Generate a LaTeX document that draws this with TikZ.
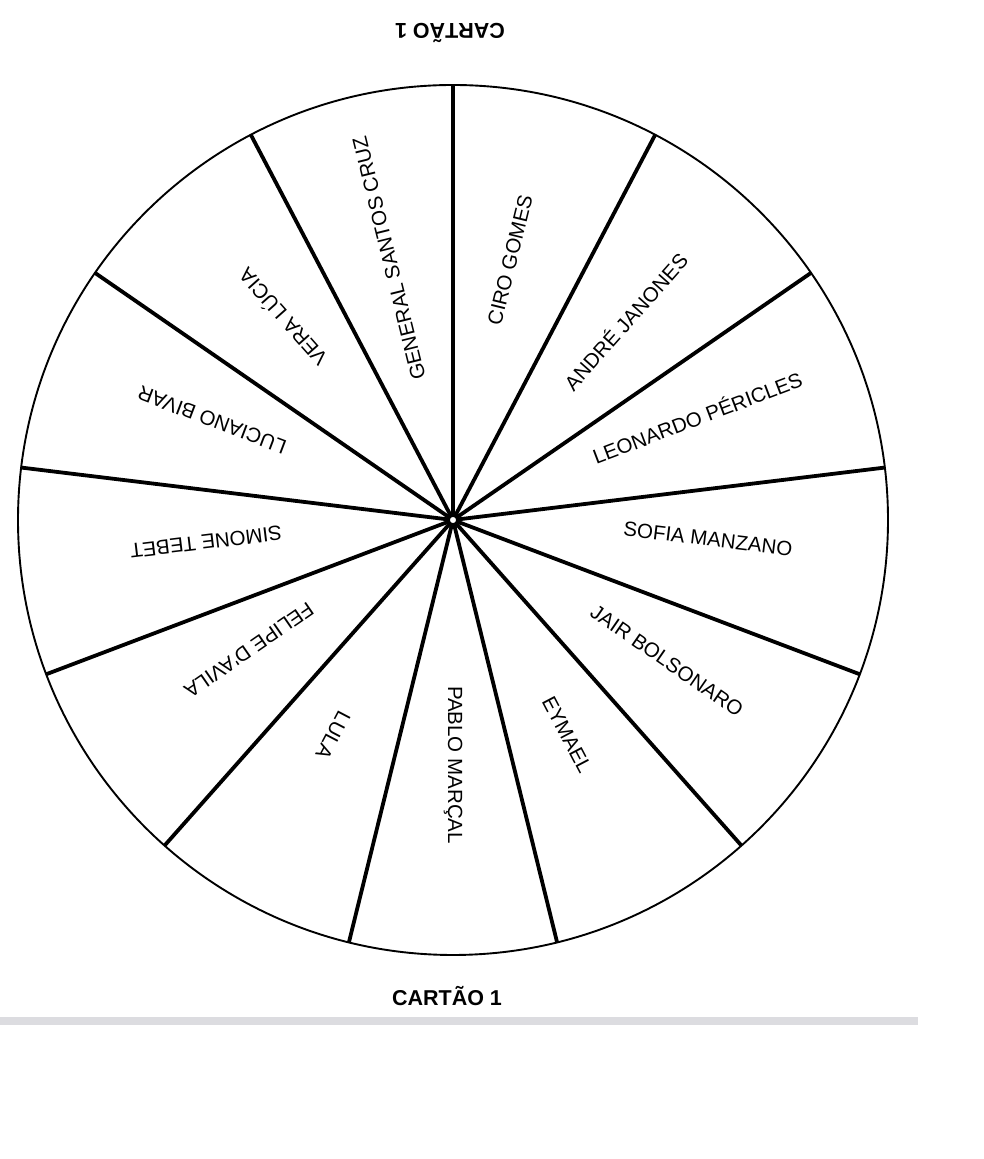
\documentclass[tikz,border=0pt]{standalone}
\usepackage{fontspec}
\setmainfont{Liberation Sans}
\definecolor{bargray}{RGB}{220,220,224}
\begin{document}
\begin{tikzpicture}[x=1pt,y=1pt,
  spoke/.style={line width=3.8pt},
  rim/.style={line width=1.9pt},
  hub/.style={circle, draw, fill=white, line width=1.6pt, minimum size=8pt, inner sep=0pt},
  lbl/.style={font=\fontsize{20.5}{24}\selectfont, inner sep=0pt},
  ttl/.style={font=\fontsize{21.5}{25}\selectfont\bfseries, inner sep=0pt}]
\useasboundingbox (0,0) rectangle (984,1159);
\coordinate (c) at (453,639);
\draw[rim] (c) circle (435);
\foreach \k in {0,...,12}{
  \path (c) ++ ({90-27.6923*\k}:435) coordinate (s\k);
  \draw[spoke] (c) -- (s\k);
}
\node[hub] (h) at (c) {};
\node[lbl, rotate=76.15]  (n0)  at (510,899) {CIRO GOMES};
\node[lbl, rotate=48.46]  (n1)  at (625,838) {ANDR\'E JANONES};
\node[lbl, rotate=20.77]  (n2)  at (697,742) {LEONARDO P\'ERICLES};
\node[lbl, rotate=-6.92]  (n3)  at (708,620) {SOFIA MANZANO};
\node[lbl, rotate=-34.62] (n4)  at (667,498) {JAIR BOLSONARO};
\node[lbl, rotate=-62.31] (n5)  at (567,424) {EYMAEL};
\node[lbl, rotate=-90]    (n6)  at (453,394) {PABLO MAR\c{C}AL};
\node[lbl, rotate=-117.69](n7)  at (333,424) {LULA};
\node[lbl, rotate=-145.38](n8)  at (249,509) {FELIPE D\textquotesingle AVILA};
\node[lbl, rotate=-173.08](n9)  at (206,617) {SIMONE TEBET};
\node[lbl, rotate=159.23] (n10) at (212,739) {LUCIANO BIVAR};
\node[lbl, rotate=131.54] (n11) at (282,841) {VERA L\'UCIA};
\node[lbl, rotate=103.85] (n12) at (389,901) {GENERAL SANTOS CRUZ};
\node[ttl, rotate=180] (t1) at (450,1126) {CART\~AO 1};
\node[ttl] (t2) at (447,163) {CART\~AO 1};
\fill[bargray] (0,134) rectangle (918,142);
\end{tikzpicture}
\end{document}
